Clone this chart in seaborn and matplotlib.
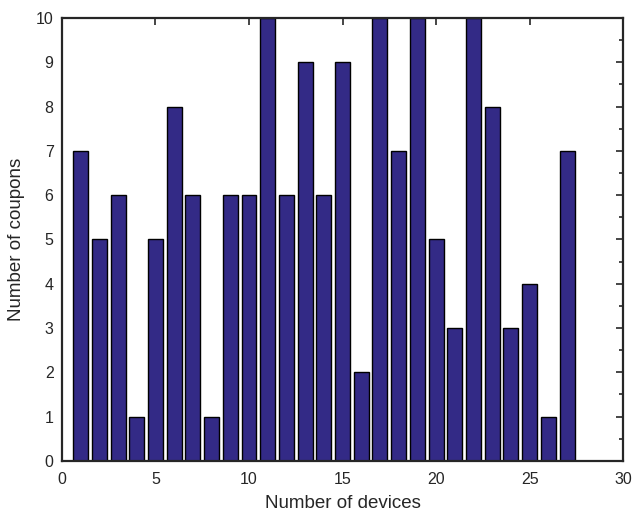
import numpy as np
import pandas as pd
import seaborn as sns
import matplotlib
matplotlib.use("Agg")
import matplotlib.pyplot as plt
from matplotlib.ticker import MultipleLocator

devices = list(range(1, 28))
coupons = [7, 5, 6, 1, 5, 8, 6, 1, 6, 6, 10, 6, 9, 6, 9, 2, 10, 7, 10, 5, 3, 10, 8, 3, 4, 1, 7]

df = pd.DataFrame({"devices": devices, "coupons": coupons})

sns.set_style("white")
plt.rcParams['font.family'] = ['Arial', 'Liberation Sans', 'DejaVu Sans']

fig = plt.figure(figsize=(6.32, 5.16), dpi=100)
ax = fig.add_axes([0.098, 0.107, 0.888, 0.858])

sns.barplot(data=df, x="devices", y="coupons", native_scale=True, width=0.8,
            color="#332a86", saturation=1, edgecolor="black", linewidth=1.0, ax=ax)

ax.set_xlim(0, 30)
ax.set_ylim(0, 10)
ax.xaxis.set_major_locator(MultipleLocator(5))
ax.yaxis.set_major_locator(MultipleLocator(1))
ax.yaxis.set_minor_locator(MultipleLocator(0.5))
ax.tick_params(which='both', direction='in', top=True, right=True, colors='#262626',
               labelsize=11.5, length=5, width=1.2)
ax.tick_params(axis='x', pad=8)
ax.tick_params(axis='y', pad=6)
ax.tick_params(which='minor', length=3, top=False, bottom=False)
for s in ax.spines.values():
    s.set_linewidth(1.6)
    s.set_color('#262626')
ax.set_xlabel("Number of devices", fontsize=13.5, color='#262626', labelpad=6)
ax.set_ylabel("Number of coupons", fontsize=13.5, color='#262626', labelpad=8)

fig.savefig("out.png", dpi=100)
